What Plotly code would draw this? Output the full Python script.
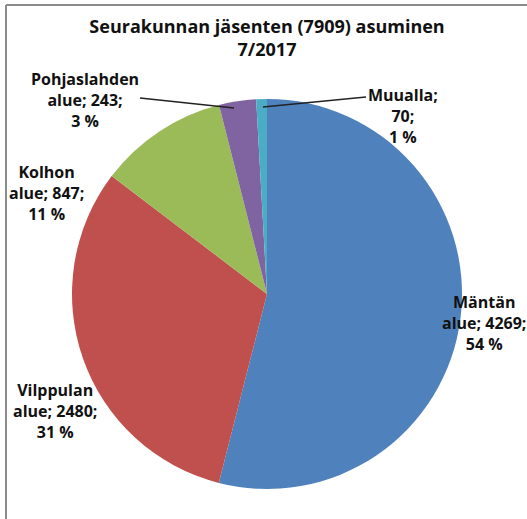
import plotly.graph_objects as go

W, H = 527, 519

labels = ["Mäntän alue", "Vilppulan alue", "Kolhon alue", "Pohjaslahden alue", "Muualla"]
values = [4269, 2480, 847, 243, 70]
percents = ["54 %", "31 %", "11 %", "3 %", "1 %"]
colors = ["#4F81BD", "#C0504D", "#9BBB59", "#8064A2", "#4BACC6"]
label_lines = [
    ["Mäntän", "alue; 4269;", "54 %"],
    ["Vilppulan", "alue; 2480;", "31 %"],
    ["Kolhon", "alue; 847;", "11 %"],
    ["Pohjaslahden", "alue; 243;", "3 %"],
    ["Muualla;", "70;", "1 %"],
]
title_text = "Seurakunnan jäsenten (7909) asuminen<br>7/2017"

# pixel helpers
def px(x):
    return x / W

def py(y):
    return 1 - y / H

cx, cy, r = 267, 294, 195

fig = go.Figure(go.Pie(
    labels=labels,
    values=values,
    sort=False,
    direction="clockwise",
    rotation=0,
    marker=dict(colors=colors, line=dict(width=0)),
    textinfo="none",
    hoverinfo="label+value+percent",
    showlegend=False,
    domain=dict(x=[px(cx - r), px(cx + r)], y=[py(cy + r), py(cy - r)]),
))

label_pos = [(484, 323), (55, 411), (46, 193), (85, 100), (403, 116)]
font = dict(family="Open Sans, Liberation Sans, sans-serif", size=16, color="#111111")
annotations = []
for lines, (x, y) in zip(label_lines, label_pos):
    annotations.append(dict(
        text="<br>".join(f"<b>{l}</b>" for l in lines),
        x=px(x), y=py(y), xref="paper", yref="paper",
        xanchor="center", yanchor="middle", showarrow=False,
        font=font, align="center",
    ))

shapes = [
    # frame
    dict(type="line", xref="paper", yref="paper", x0=px(6), x1=px(527), y0=py(5), y1=py(5),
         line=dict(color="#8c8c8c", width=2)),
    dict(type="line", xref="paper", yref="paper", x0=px(6), x1=px(6), y0=py(5), y1=py(519),
         line=dict(color="#8c8c8c", width=2)),
    # leader lines
    dict(type="line", xref="paper", yref="paper", x0=px(140), x1=px(234), y0=py(98), y1=py(108),
         line=dict(color="#222222", width=1.3)),
    dict(type="line", xref="paper", yref="paper", x0=px(263), x1=px(366), y0=py(107), y1=py(97),
         line=dict(color="#222222", width=1.3)),
]

fig.update_layout(
    width=W, height=H,
    margin=dict(l=0, r=0, t=0, b=0),
    paper_bgcolor="white", plot_bgcolor="white",
    title=dict(text=f"<b>{title_text}</b>", x=px(267), xanchor="center",
               y=py(33), yanchor="top", yref="container",
               font=dict(family="Open Sans, Liberation Sans, sans-serif", size=18, color="#111111")),
    annotations=annotations,
    shapes=shapes,
)

fig.write_html("out.html", config={"displayModeBar": False},
               post_script="document.body.style.margin='0';document.body.style.overflow='hidden';")
